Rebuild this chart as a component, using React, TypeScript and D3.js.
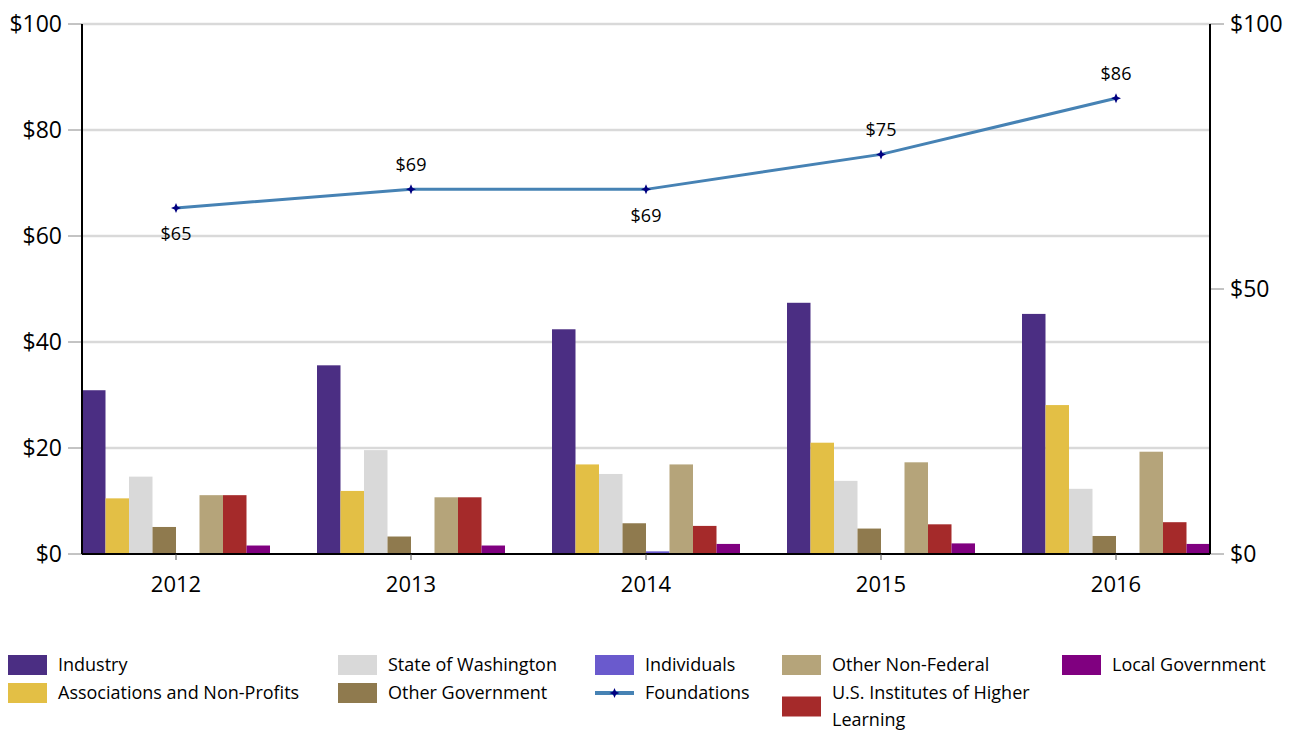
import React from "react";
import * as d3 from "d3";

const years = ["2012", "2013", "2014", "2015", "2016"];

const seriesNames = [
  "Industry",
  "Associations and Non-Profits",
  "State of Washington",
  "Other Government",
  "Individuals",
  "Other Non-Federal",
  "U.S. Institutes of Higher Learning",
  "Local Government",
];

const industry = [30.9, 35.6, 42.4, 47.4, 45.3];
const associations = [10.5, 11.9, 16.9, 21.0, 28.1];
const stateOfWashington = [14.6, 19.6, 15.1, 13.8, 12.3];
const otherGovernment = [5.1, 3.3, 5.8, 4.8, 3.4];
const individuals = [0, 0, 0.5, 0.1, 0.2];
const otherNonFederal = [11.1, 10.7, 16.9, 17.3, 19.3];
const usInstitutes = [11.1, 10.7, 5.3, 5.6, 6.0];
const localGovernment = [1.6, 1.6, 1.9, 2.0, 1.9];

const foundations = [65.3, 68.8, 68.8, 75.4, 86.0];
const foundationLabels = ["$65", "$69", "$69", "$75", "$86"];
const foundationLabelSide = ["below", "above", "below", "above", "above"];

const leftTicks = [0, 20, 40, 60, 80, 100];
const rightTicks = [0, 50, 100];

const colors = ["#4b2e83", "#e3bf45", "#d9d9d9", "#8f7a4e", "#6a5acd", "#b5a47a", "#a52a2a", "#800080"];
const lineColor = "#4682b4";
const markerColor = "#000080";

const barSeries = [industry, associations, stateOfWashington, otherGovernment, individuals, otherNonFederal, usInstitutes, localGovernment];

const FONT = "'Open Sans', 'Noto Sans', sans-serif";

const starPath = (cx: number, cy: number, r: number) => {
  const s = r * 0.3;
  return `M${cx},${cy - r}L${cx + s},${cy - s}L${cx + r},${cy}L${cx + s},${cy + s}L${cx},${cy + r}L${cx - s},${cy + s}L${cx - r},${cy}L${cx - s},${cy - s}Z`;
};

const App = () => {
  const margin = { top: 24, left: 82, right: 86, bottom: 178 };
  const width = 1296;
  const height = 732;
  const x0 = margin.left;
  const x1 = width - margin.right;
  const yBottom = height - margin.bottom;

  const x = d3.scaleBand().domain(years).range([x0, x1]).paddingInner(0.2).paddingOuter(0);
  const xs = d3.scaleBand().domain(d3.range(seriesNames.length).map(String)).range([0, x.bandwidth()]);
  const y = d3.scaleLinear().domain([0, 100]).range([yBottom, margin.top]);
  const yR = d3.scaleLinear().domain([0, 100]).range([yBottom, margin.top]);

  const line = d3
    .line<number>()
    .x((d, i) => x(years[i])! + x.bandwidth() / 2)
    .y((d) => y(d));

  // legend layout: column, row
  const legendItems = [
    { name: "Industry", col: 0, row: 0, idx: 0 },
    { name: "Associations and Non-Profits", col: 0, row: 1, idx: 1 },
    { name: "State of Washington", col: 1, row: 0, idx: 2 },
    { name: "Other Government", col: 1, row: 1, idx: 3 },
    { name: "Individuals", col: 2, row: 0, idx: 4 },
    { name: "Foundations", col: 2, row: 1, idx: -1 },
    { name: "Other Non-Federal", col: 3, row: 0, idx: 5 },
    { name: "U.S. Institutes of Higher|Learning", col: 3, row: 1, idx: 6 },
    { name: "Local Government", col: 4, row: 0, idx: 7 },
  ];
  const legendCols = [8, 338, 595, 782, 1062];
  const legendRows = [665, 693];

  return (
    <svg width={width} height={height} style={{ position: "absolute", left: 0, top: 0, background: "#fff" }} fontFamily={FONT}>
      {/* grid */}
      {leftTicks.filter((t) => t > 0).map((t) => (
        <line key={"g" + t} x1={x0} x2={x1} y1={y(t)} y2={y(t)} stroke="#d9d9d9" strokeWidth={2.5} />
      ))}
      {/* left ticks */}
      {leftTicks.map((t) => (
        <g key={"l" + t}>
          <line x1={x0 - 14} x2={x0} y1={y(t)} y2={y(t)} stroke="#888" strokeWidth={1} />
          <text x={x0 - 20} y={y(t)} dy="0.35em" textAnchor="end" fontSize={23} fill="#000">
            {"$" + t}
          </text>
        </g>
      ))}
      {/* right ticks */}
      {rightTicks.map((t) => (
        <g key={"r" + t}>
          <line x1={x1} x2={x1 + 14} y1={yR(t)} y2={yR(t)} stroke="#888" strokeWidth={1} />
          <text x={x1 + 20} y={yR(t)} dy="0.35em" textAnchor="start" fontSize={23} fill="#000">
            {"$" + t}
          </text>
        </g>
      ))}
      {/* bars */}
      {years.map((yr, i) => (
        <g key={yr} transform={`translate(${x(yr)},0)`}>
          {barSeries.map((s, j) => (
            <rect
              key={j}
              x={xs(String(j))}
              y={y(s[i])}
              width={xs.bandwidth()}
              height={y(0) - y(s[i])}
              fill={colors[j]}
            />
          ))}
        </g>
      ))}
      {/* axes */}
      <line x1={x0} x2={x0} y1={margin.top} y2={yBottom} stroke="#000" strokeWidth={2} />
      <line x1={x1} x2={x1} y1={margin.top} y2={yBottom} stroke="#000" strokeWidth={2} />
      <line x1={x0} x2={x1} y1={yBottom} y2={yBottom} stroke="#000" strokeWidth={2} />
      {years.map((yr) => (
        <g key={"x" + yr}>
          <line x1={x(yr)! + x.bandwidth() / 2} x2={x(yr)! + x.bandwidth() / 2} y1={yBottom} y2={yBottom + 6} stroke="#555" />
          <text x={x(yr)! + x.bandwidth() / 2} y={yBottom + 30} dy="0.35em" textAnchor="middle" fontSize={22} fill="#000">
            {yr}
          </text>
        </g>
      ))}
      {/* foundations line */}
      <path d={line(foundations)!} fill="none" stroke={lineColor} strokeWidth={3} />
      {foundations.map((v, i) => {
        const cx = x(years[i])! + x.bandwidth() / 2;
        const cy = y(v);
        return (
          <g key={"f" + i}>
            <path d={starPath(cx, cy, 5)} fill={markerColor} />
            <text
              x={cx}
              y={foundationLabelSide[i] === "above" ? cy - 25 : cy + 26}
              dy="0.35em"
              textAnchor="middle"
              fontSize={18}
              fill="#000"
            >
              {foundationLabels[i]}
            </text>
          </g>
        );
      })}
      {/* legend */}
      {legendItems.map((it) => {
        const lx = legendCols[it.col];
        const lines = it.name.split("|");
        const ty = legendRows[it.row];
        const cy = ty + ((lines.length - 1) * 27) / 2;
        return (
          <g key={it.name}>
            {it.idx >= 0 ? (
              <rect x={lx} y={cy - 10} width={39} height={20} fill={colors[it.idx]} />
            ) : (
              <g>
                <line x1={lx} x2={lx + 39} y1={cy} y2={cy} stroke={lineColor} strokeWidth={4} />
                <path d={starPath(lx + 19.5, cy, 5)} fill={markerColor} />
              </g>
            )}
            {lines.map((ln, k) => (
              <text key={k} x={lx + 50} y={ty + k * 27} dy="0.35em" fontSize={18} fill="#000">
                {ln}
              </text>
            ))}
          </g>
        );
      })}
    </svg>
  );
};

export default App;
